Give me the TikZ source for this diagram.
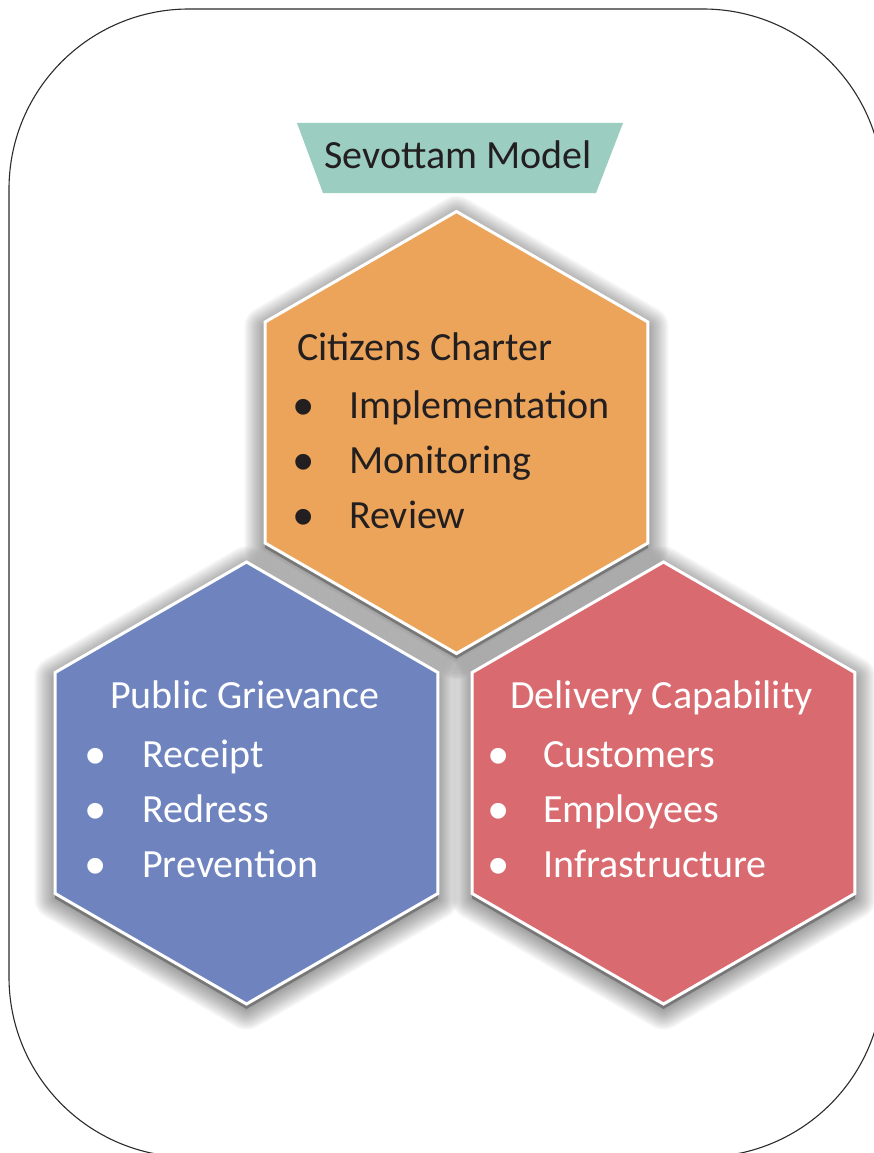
\documentclass[tikz,border=0pt]{standalone}
\usepackage{fontspec}
\setmainfont{Carlito}
\newfontfamily\bulletfont{Liberation Sans}
\definecolor{hexorange}{HTML}{EBA45A}
\definecolor{hexblue}{HTML}{6F84BF}
\definecolor{hexred}{HTML}{D96B70}
\definecolor{titleteal}{HTML}{9BCDC0}
\definecolor{txtdark}{HTML}{231F20}
\definecolor{framegray}{HTML}{2B2B2B}
\newcommand{\hexpath}[2]{([yshift=#2]#1) +(90:221) -- +(30:221) -- +(-30:221) -- +(-90:221) -- +(-150:221) -- +(150:221) -- cycle}
\tikzset{
  frame/.style={draw=framegray, line width=1.1pt, rounded corners=180pt},
  hexfill/.style={draw=white, line width=3pt, line join=miter},
  shadowring/.style={draw=black, opacity=0.026, line join=round},
  hdr/.style={anchor=base west, inner sep=0pt, font=\fontsize{40}{48}\selectfont},
  item/.style={anchor=base west, inner sep=0pt, font=\fontsize{40}{48}\selectfont},
  bul/.style={anchor=base, inner sep=0pt, font=\bulletfont\fontsize{58}{60}\selectfont},
  titletext/.style={anchor=base, inner sep=0pt, font=\fontsize{40}{48}\selectfont, text=txtdark}
}
\begin{document}
\begin{tikzpicture}[x=1pt,y=-1pt]
\useasboundingbox (0,0) rectangle (873,1153);
% outer frame
\draw[frame] (9,9) rectangle (883,1157);
% title banner
\fill[titleteal] (297,123) -- (623,123) -- (596,193) -- (323,193) -- cycle;
\node[titletext] (title) at (458,168) {Sevottam Model};
% hexagon centres
\coordinate (cc) at (456.5,432.5);
\coordinate (pg) at (246.5,783);
\coordinate (dc) at (663.5,783);
% shadows
\foreach \hc in {cc,pg,dc}{
  \fill[black, opacity=0.28] \hexpath{\hc}{-5pt};
  \foreach \k in {1,...,16}{
    \draw[shadowring, line width={2.6pt*\k}] \hexpath{\hc}{-5pt};
  }
}
% hexagons
\filldraw[hexfill, fill=hexorange] \hexpath{cc}{0pt};
\filldraw[hexfill, fill=hexblue] \hexpath{pg}{0pt};
\filldraw[hexfill, fill=hexred] \hexpath{dc}{0pt};
% Citizens Charter
\node[hdr, text=txtdark] (cch) at (297,360) {Citizens Charter};
\node[bul, text=txtdark] (ccb1) at (304,426) {•};
\node[bul, text=txtdark] (ccb2) at (304,481) {•};
\node[bul, text=txtdark] (ccb3) at (304,536) {•};
\node[item, text=txtdark] (cci1) at (349,418) {Implementation};
\node[item, text=txtdark] (cci2) at (349,473) {Monitoring};
\node[item, text=txtdark] (cci3) at (349,528) {Review};
% Public Grievance
\node[hdr, text=white] (pgh) at (110,708) {Public Grievance};
\node[bul, text=white] (pgb1) at (96,775) {•};
\node[bul, text=white] (pgb2) at (96,830) {•};
\node[bul, text=white] (pgb3) at (96,885) {•};
\node[item, text=white] (pgi1) at (142,767) {Receipt};
\node[item, text=white] (pgi2) at (142,822) {Redress};
\node[item, text=white] (pgi3) at (142,877) {Prevention};
% Delivery Capability
\node[hdr, text=white] (dch) at (510,708) {Delivery Capability};
\node[bul, text=white] (dcb1) at (499,775) {•};
\node[bul, text=white] (dcb2) at (499,830) {•};
\node[bul, text=white] (dcb3) at (499,885) {•};
\node[item, text=white] (dci1) at (543,767) {Customers};
\node[item, text=white] (dci2) at (543,822) {Employees};
\node[item, text=white] (dci3) at (543,877) {Infrastructure};
\end{tikzpicture}
\end{document}
